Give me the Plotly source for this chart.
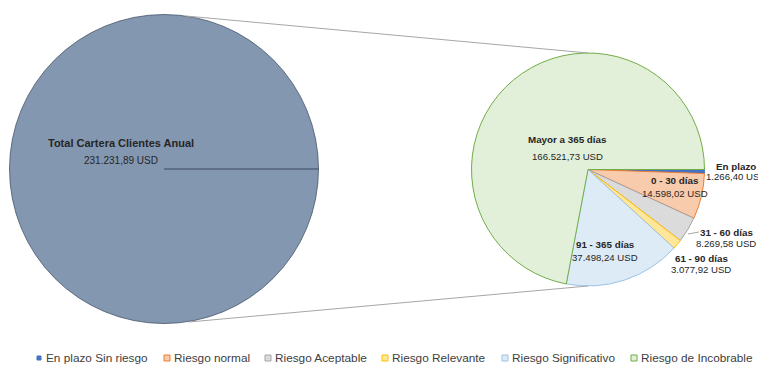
import plotly.graph_objects as go

W, H = 766, 366
OFF = 8  # margen del body de la pagina

# datos
total_label = "Total Cartera Clientes Anual"
total_value = 231231.89

tramos = ["En plazo", "0 - 30 días", "31 - 60 días", "61 - 90 días",
          "91 - 365 días", "Mayor a 365 días"]
riesgos = ["En plazo Sin riesgo", "Riesgo normal", "Riesgo Aceptable",
           "Riesgo Relevante", "Riesgo Significativo", "Riesgo de Incobrable"]
saldos = [1266.40, 14598.02, 8269.58, 3077.92, 37498.24, 166521.73]

# estilos
fills = ["#4472C4", "#F8CBAD", "#DBDBDB", "#FFE699", "#DDEBF7", "#E2F0D9"]
borders = ["#4472C4", "#ED7D31", "#A5A5A5", "#FFC000", "#9DC3E6", "#70AD47"]
FONT = "Arial, Liberation Sans, sans-serif"
TXT = "#262626"

# geometria en pixeles de pantalla (centro x, centro y, radio)
LEFT = (164, 169, 154.5)
RIGHT = (588, 169.5, 116.5)

# posiciones de etiquetas: x, y nombre, y valor
LABEL_POS = [(736, 166, 177), (675, 180, 193), (726, 232, 243),
             (701, 258, 269), (605, 244, 257), (567, 139, 156)]
LEGEND_X = [39, 167, 268, 385, 505, 634]
LEGEND_Y = 358


def fmt(v):
    s = f"{v:,.2f}"
    return s.replace(",", "X").replace(".", ",").replace("X", ".") + " USD"


def px(x, y):
    return (x - OFF) / W, 1 - (y - OFF) / H


def dom(c):
    x, y, r = c
    x0, y0 = px(x - r, y + r)
    x1, y1 = px(x + r, y - r)
    return dict(x=[x0, x1], y=[y0, y1])


fig = go.Figure()

fig.add_trace(go.Pie(
    values=[total_value], labels=[total_label], domain=dom(LEFT),
    sort=False, textinfo="none", showlegend=False, hoverinfo="label+value",
    marker=dict(colors=["#8497B0"], line=dict(color="#44546A", width=0.8)),
))

fig.add_trace(go.Pie(
    values=saldos, labels=tramos, domain=dom(RIGHT),
    sort=False, direction="clockwise", rotation=90, textinfo="none",
    showlegend=False, hoverinfo="label+value",
    marker=dict(colors=fills, line=dict(color=borders, width=1)),
))

shapes = []
# radio del circulo total
lx, ly, lr = LEFT
x0, y0 = px(lx, ly)
x1, y1 = px(lx + lr, ly)
shapes.append(dict(type="line", xref="paper", yref="paper", x0=x0, y0=y0,
                   x1=x1, y1=y1, line=dict(color="#52627A", width=1.5)))

# lineas de conexion
rx, ry, rr = RIGHT
for sgn, lxp in [(-1, 186), (1, 189)]:
    ax, ay = px(lxp, ly + sgn * (lr - 1.5))
    bx, by = px(rx, ry + sgn * rr)
    shapes.append(dict(type="line", xref="paper", yref="paper", x0=ax, y0=ay,
                       x1=bx, y1=by, line=dict(color="#A6A6A6", width=1)))

# linea guia 31 - 60
a, b = px(688, 234)
c, d = px(699, 232)
shapes.append(dict(type="line", xref="paper", yref="paper", x0=a, y0=b,
                   x1=c, y1=d, line=dict(color="#A6A6A6", width=1)))

annotations = []


def label(x, y, text, size, bold=False):
    ax, ay = px(x, y)
    annotations.append(dict(
        x=ax, y=ay, xref="paper", yref="paper", xanchor="center",
        yanchor="middle", showarrow=False,
        text=f"<b>{text}</b>" if bold else text,
        font=dict(family=FONT, size=size, color=TXT)))


label(121, 143, total_label, 11, True)
label(121, 160, fmt(total_value), 10)

for name, val, (x, yn, yv) in zip(tramos, saldos, LABEL_POS):
    label(x, yn, name, 9.8, True)
    label(x, yv, fmt(val), 9.6)

# leyenda
for name, fc, bc, x in zip(riesgos, fills, borders, LEGEND_X):
    s = 2 if fc == "#4472C4" else 3
    a, b = px(x - s, LEGEND_Y - s)
    c, d = px(x + s, LEGEND_Y + s)
    shapes.append(dict(type="rect", xref="paper", yref="paper", x0=a, y0=b,
                       x1=c, y1=d, fillcolor=fc, line=dict(color=bc, width=1)))
    tx, ty = px(x + 5, LEGEND_Y)
    annotations.append(dict(
        x=tx, y=ty, xref="paper", yref="paper", xanchor="left",
        yanchor="middle", showarrow=False, text=name,
        font=dict(family=FONT, size=11.8, color="#404040")))

fig.update_layout(
    width=W, height=H,
    margin=dict(l=0, r=0, t=0, b=0),
    paper_bgcolor="white", plot_bgcolor="white",
    showlegend=False,
    shapes=shapes, annotations=annotations,
)

fig.write_html("out.html")
